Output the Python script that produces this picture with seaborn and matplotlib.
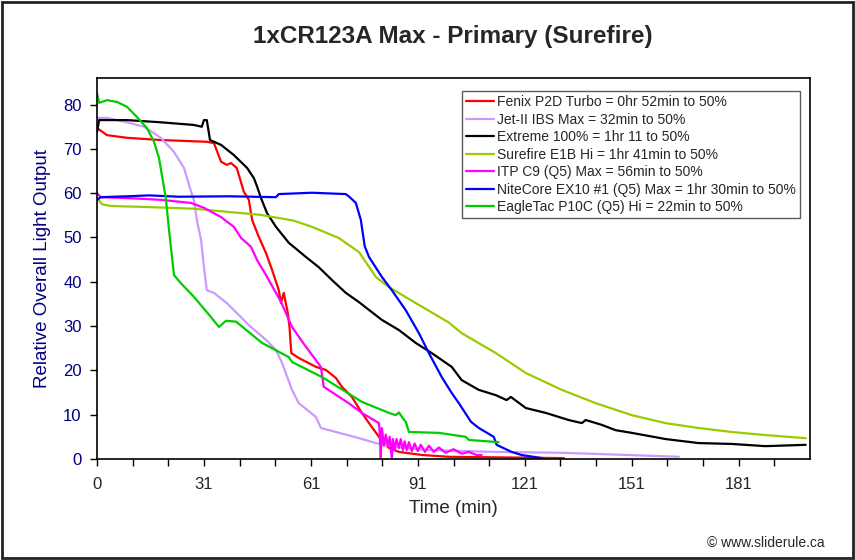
import numpy as np
import pandas as pd
import seaborn as sns
from matplotlib import pyplot as plt
from matplotlib.patches import Rectangle

# --- data (time in min, relative output) ---
fenix_t = [0, 2.8, 8.4, 17.9, 30.8, 32.8, 34.8, 36.4, 37.6, 39.2, 41.2, 42.6, 43.5,
           45.4, 47.4, 49.1, 51.0, 51.6, 52.4, 53.5, 54.0, 54.5, 56.6, 61.4, 64.2,
           67.0, 68.7, 71.5, 74.3, 76.3, 79.1, 81.9, 84.7, 91.2, 98.7, 131.0]
fenix_v = [74.7, 73.1, 72.5, 72.0, 71.6, 71.3, 67.1, 66.4, 66.8, 65.7, 60.3, 58.5, 54.0,
           50.1, 46.5, 42.7, 38.1, 35.2, 37.5, 33.0, 29.8, 23.9, 22.8, 20.8, 20.1,
           18.3, 16.3, 14.0, 10.4, 8.1, 5.0, 2.5, 1.6, 0.9, 0.5, 0.2]

jet_t = [0, 2.8, 8.4, 13.2, 17.9, 21.6, 24.4, 26.4, 27.2, 28.0, 29.2, 30.0, 30.8,
         32.8, 36.4, 40.4, 42.6, 47.4, 50.2, 51.9, 54.7, 56.6, 61.4, 62.8, 67.0,
         73.5, 78.2, 84.7, 93.1, 111.9, 130.4, 149.1, 163.2]
jet_v = [77.0, 77.0, 76.0, 75.0, 72.5, 69.3, 65.7, 60.3, 58.4, 54.0, 49.4, 43.3, 38.1,
         37.5, 35.2, 32.0, 30.2, 26.9, 24.6, 21.7, 15.6, 12.6, 9.5, 7.0, 6.1,
         4.7, 3.6, 2.6, 2.0, 1.6, 1.4, 0.9, 0.5]

extreme_t = [0, 0.6, 8.4, 17.9, 27.2, 29.4, 30.0, 30.8, 31.7, 34.8, 38.4, 42.1, 44.0,
             44.9, 46.0, 47.7, 50.2, 53.8, 58.6, 62.2, 65.9, 69.8, 73.5, 79.9, 84.7,
             89.4, 93.9, 99.5, 102.3, 107.1, 111.9, 114.9, 116.1, 120.3, 125.9, 132.3,
             136.0, 137.1, 141.6, 145.5, 150.0, 159.5, 168.7, 178.0, 187.5, 198.8]
extreme_v = [73.8, 76.5, 76.5, 76.0, 75.4, 75.0, 76.5, 76.5, 72.0, 70.9, 68.6, 65.7, 63.4,
             61.5, 58.9, 55.5, 52.4, 48.8, 45.6, 43.3, 40.4, 37.5, 35.4, 31.4, 29.1,
             26.2, 23.9, 20.8, 17.8, 15.6, 14.4, 13.3, 14.0, 11.5, 10.4, 8.8,
             8.1, 8.8, 7.7, 6.5, 5.9, 4.5, 3.6, 3.4, 2.9, 3.2]

e1b_t = [0, 1.4, 3.9, 13.2, 27.2, 36.4, 46.0, 55.2, 60.3, 67.8, 73.5, 78.2, 81.9,
         89.4, 98.7, 102.3, 111.9, 120.3, 130.4, 139.9, 150.0, 159.5, 168.7, 178.0,
         187.5, 198.8]
e1b_v = [58.9, 57.5, 57.1, 56.9, 56.5, 55.8, 55.1, 53.8, 52.4, 49.9, 46.7, 41.1, 38.8,
         35.2, 30.8, 28.4, 23.9, 19.4, 15.6, 12.6, 9.9, 8.1, 7.0, 6.1,
         5.4, 4.7]

itp_t = [0, 1.1, 8.4, 17.9, 26.4, 30.0, 34.8, 38.4, 40.4, 43.2, 44.9, 47.7, 50.2,
         51.6, 54.7, 58.0, 61.4, 62.8, 63.6, 67.0, 70.6, 74.3, 79.1, 79.3, 79.6,
         79.9, 80.5, 81.0, 81.6, 82.1, 82.7, 83.0, 83.5, 84.0, 84.7, 85.2, 85.8,
         86.3, 86.9, 87.5, 88.3, 89.1, 90.0, 90.8, 92.0, 93.1, 94.5, 95.9, 97.8,
         100.0, 102.3, 104.3, 106.5, 107.9]
itp_v = [60.0, 59.1, 58.9, 58.5, 57.8, 56.7, 54.6, 52.4, 49.9, 47.9, 44.9, 41.1, 37.5,
         35.5, 29.8, 26.0, 22.3, 20.8, 16.3, 14.5, 12.6, 10.4, 8.1, 6.0, 0.0,
         7.0, 3.0, 5.5, 3.0, 5.0, 0.0, 4.5, 2.0, 4.5, 2.5, 4.5, 2.0,
         4.0, 2.0, 3.8, 1.8, 3.5, 1.8, 3.2, 1.6, 3.0, 1.6, 2.6, 1.4,
         2.2, 1.2, 1.6, 0.9, 0.9]

nite_t = [0, 1.1, 8.4, 14.6, 23.0, 37.0, 50.2, 51.0, 60.3, 69.8, 70.9, 72.6, 74.0,
          75.1, 76.3, 79.9, 82.7, 86.6, 90.3, 93.1, 96.7, 99.5, 101.5, 104.9, 107.1,
          111.3, 112.1, 116.3, 119.1, 124.8]
nite_v = [58.5, 59.1, 59.3, 59.5, 59.2, 59.3, 59.1, 59.8, 60.1, 59.8, 59.1, 57.8, 54.0,
          48.0, 45.6, 41.1, 38.1, 33.6, 28.4, 23.9, 18.5, 14.9, 12.6, 8.4, 7.0,
          5.0, 3.2, 1.6, 0.9, 0.2]

eagle_t = [0, 0.6, 2.8, 5.6, 8.4, 11.2, 14.0, 16.0, 17.4, 18.2, 19.3, 20.2, 21.6,
           23.5, 27.2, 32.0, 34.2, 36.2, 39.0, 46.3, 53.8, 54.7, 63.1, 74.3, 81.9,
           83.8, 84.7, 85.8, 86.6, 87.5, 95.9, 103.4, 104.3, 112.7]
eagle_v = [82.6, 80.4, 81.0, 80.6, 79.5, 77.2, 74.7, 71.6, 67.9, 64.1, 58.9, 51.7, 41.5,
           39.7, 36.6, 32.0, 29.8, 31.2, 31.0, 26.2, 23.0, 21.9, 18.5, 12.9, 10.4,
           9.9, 10.5, 9.2, 8.4, 6.1, 5.9, 5.0, 4.3, 3.8]

labels = [
    "Fenix P2D Turbo = 0hr 52min to 50%",
    "Jet-II IBS Max = 32min to 50%",
    "Extreme 100% = 1hr 11 to 50%",
    "Surefire E1B Hi = 1hr 41min to 50%",
    "ITP C9 (Q5) Max = 56min to 50%",
    "NiteCore EX10 #1 (Q5) Max = 1hr 30min to 50%",
    "EagleTac P10C (Q5) Hi = 22min to 50%",
]
series = [(fenix_t, fenix_v), (jet_t, jet_v), (extreme_t, extreme_v), (e1b_t, e1b_v),
          (itp_t, itp_v), (nite_t, nite_v), (eagle_t, eagle_v)]
colors = ["#FF0000", "#CC99FF", "#000000", "#99CC00", "#FF00FF", "#0000FF", "#00CC00"]

x_tick_pos = [0, 30, 60, 90, 120, 150, 180]
x_tick_labels = ["0", "31", "61", "91", "121", "151", "181"]

frames = []
for name, (t, v) in zip(labels, series):
    frames.append(pd.DataFrame({"time": t, "output": v, "light": name}))
df = pd.concat(frames, ignore_index=True)

sns.set_theme(style="white")
plt.rcParams["font.family"] = ["Liberation Sans", "DejaVu Sans"]

fig = plt.figure(figsize=(8.55, 5.6), dpi=100)
ax = fig.add_axes([97 / 855, 1 - 459 / 560, (810 - 97) / 855, (459 - 78) / 560])

sns.lineplot(data=df, x="time", y="output", hue="light", hue_order=labels,
             palette=colors, sort=False, estimator=None, units="light",
             linewidth=1.6, ax=ax)

ax.set_xlim(0, 200)
ax.set_ylim(0, 86)
ax.set_xticks(np.arange(0, 200, 10))
ax.set_xticklabels([x_tick_labels[x_tick_pos.index(p)] if p in x_tick_pos else ""
                    for p in range(0, 200, 10)], fontsize=12)
ax.set_yticks(np.arange(0, 90, 10))
ax.set_yticklabels([str(v) for v in range(0, 90, 10)], fontsize=12, color="#000080")
ax.tick_params(axis="both", direction="out", length=5, width=1, color="black",
               bottom=True, left=True)
ax.tick_params(axis="x", pad=8)
ax.tick_params(axis="y", pad=6)
for sp in ax.spines.values():
    sp.set_color("black")
    sp.set_linewidth(1.2)

ax.set_xlabel("Time (min)", fontsize=13.5, labelpad=6)
ax.set_ylabel("Relative Overall Light Output", fontsize=13.5, color="#000080",
              labelpad=9)

fig.text(453 / 855, 1 - 37 / 560, "1xCR123A Max - Primary (Surefire)",
         ha="center", va="center", fontsize=17.5, fontweight="bold")
fig.text(825 / 855, 1 - 543 / 560, "© www.sliderule.ca", ha="right", va="center",
         fontsize=10)

leg = ax.legend(loc="upper right", bbox_to_anchor=((800 - 97) / 713, (459 - 91) / 381),
                borderaxespad=0, fontsize=10, frameon=True, fancybox=False,
                handlelength=2.0, handletextpad=0.2, labelspacing=0.25,
                borderpad=0.3)
leg.get_frame().set_edgecolor("#333333")
leg.get_frame().set_linewidth(1.0)
for line in leg.get_lines():
    line.set_linewidth(1.6)

fig.patches.append(Rectangle((0.002, 0.003), 0.996, 0.994, transform=fig.transFigure,
                             fill=False, edgecolor="#222222", linewidth=2))

fig.savefig("out.png", dpi=100)
